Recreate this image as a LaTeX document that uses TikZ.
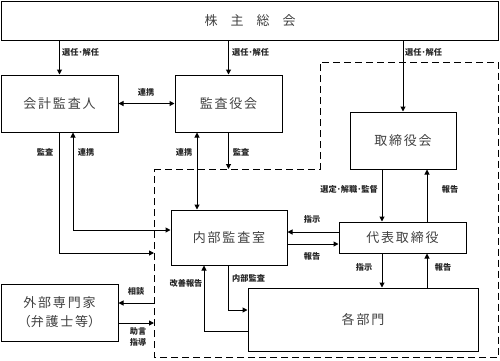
\documentclass[tikz,border=0pt]{standalone}
\usepackage{fontspec}
\newfontfamily\jp{Noto Sans CJK JP}
\usetikzlibrary{arrows.meta}
\newcommand\lsp{\hspace{1.8pt}}
\begin{document}
\begin{tikzpicture}[x=1pt,y=-1pt,
 box/.style={draw,line width=1pt,inner sep=0pt,align=center,font=\jp\fontsize{13}{19}\selectfont,text=black!75},
 lbl/.style={font=\jp\bfseries\fontsize{8.2}{10.5}\selectfont,text=black!85,inner sep=0pt,align=center},
 arr/.style={line width=1pt,-{Triangle[length=5pt,width=5pt]}},
 darr/.style={line width=1pt,{Triangle[length=5pt,width=5pt]}-{Triangle[length=5pt,width=5pt]}},
 zone/.style={line width=1pt,dash pattern=on 7pt off 4pt}]
\useasboundingbox (0,0) rectangle (500,360);
% dashed company zone
\draw[zone] (154,169) -- (320,169) -- (320,62) -- (498.5,62) -- (498.5,357) -- (154,357) -- cycle;
% boxes
\node[box,minimum width=497pt,minimum height=39pt] (sh) at (250,20.5) {株\hspace{13pt}主\hspace{13pt}総\hspace{13pt}会};
\node[box,minimum width=117pt,minimum height=57pt] (ka) at (59.5,103.5) {会\lsp{}計\lsp{}監\lsp{}査\lsp{}人};
\node[box,minimum width=107pt,minimum height=57pt] (ky) at (228.5,103.5) {監\lsp{}査\lsp{}役\lsp{}会};
\node[box,minimum width=106pt,minimum height=57pt] (tb) at (403,140.5) {取\lsp{}締\lsp{}役\lsp{}会};
\node[box,minimum width=116pt,minimum height=55pt] (nb) at (229,237.5) {内\lsp{}部\lsp{}監\lsp{}査\lsp{}室};
\node[box,minimum width=127pt,minimum height=31pt] (dh) at (402.5,237.5) {代\lsp{}表\lsp{}取\lsp{}締\lsp{}役};
\node[box,minimum width=230pt,minimum height=63pt] (kb) at (363,319.5) {各\lsp{}部\lsp{}門};
\node[box,minimum width=117pt,minimum height=57pt] (gs) at (59.5,312.5) {外\lsp{}部\lsp{}専\lsp{}門\lsp{}家\\（弁\lsp{}護\lsp{}士\lsp{}等）};
% border coordinates
\coordinate (b1) at (154,253);
\coordinate (b2) at (229,169);
\coordinate (b3) at (154,303);
\coordinate (b4) at (154,323);
% shareholders
\draw[arr] (ka.north |- sh.south) -- (ka.north);
\draw[arr] (ky.north |- sh.south) -- (ky.north);
\draw[arr] (tb.north |- sh.south) -- (tb.north);
\node[lbl,anchor=west] (l1) at (62,52) {選任･解任};
\node[lbl,anchor=west] (l2) at (232,52) {選任･解任};
\node[lbl,anchor=west] (l3) at (405,52) {選任･解任};
% auditors
\draw[darr] (ka.east) -- (ky.west);
\node[lbl] (l4) at (146,92) {連携};
\draw[arr] (ka.south) |- (b1);
\node[lbl] (l5) at (45,152) {監査};
\draw[darr] ([xshift=13.5pt]ka.south) |- ([yshift=7.5pt]nb.west);
\node[lbl] (l6) at (86,152) {連携};
\draw[darr] ([xshift=-31.5pt]ky.south) -- ([xshift=-31.5pt]ky.south |- nb.north);
\node[lbl] (l7) at (184,152) {連携};
\draw[arr] (ky.south) -- (ky.south |- b2);
\node[lbl] (l8) at (241,152) {監査};
% board
\draw[arr] ([xshift=-21pt]tb.south) -- ([xshift=-21pt]tb.south |- dh.north);
\node[lbl,anchor=east] (l9) at (378,189) {選定･解職･監督};
\draw[arr] ([xshift=24pt]tb.south |- dh.north) -- ([xshift=24pt]tb.south);
\node[lbl] (l10) at (450,189) {報告};
% rep director <-> internal audit
\draw[arr] ([yshift=5.5pt]dh.west) -- ([yshift=5.5pt]dh.west -| nb.east);
\node[lbl] (l11) at (312,219) {指示};
\draw[arr] ([yshift=-6.5pt]nb.east) -- ([yshift=-6.5pt]nb.east -| dh.west);
\node[lbl] (l12) at (312,256) {報告};
% rep director <-> departments
\draw[arr] ([xshift=-20.5pt]dh.south) -- ([xshift=-20.5pt]dh.south |- kb.north);
\node[lbl] (l13) at (364,267) {指示};
\draw[arr] ([xshift=24.5pt]dh.south |- kb.north) -- ([xshift=24.5pt]dh.south);
\node[lbl] (l14) at (443,267) {報告};
% internal audit <-> departments
\draw[arr] ([xshift=-1pt]nb.south) |- ([yshift=9.5pt]kb.west);
\node[lbl,anchor=west] (l15) at (232,278) {内部監査};
\draw[arr] ([yshift=-11.5pt]kb.west) -| ([xshift=-25pt]nb.south);
\node[lbl] (l16) at (186,283) {改善報告};
% external experts
\draw[arr] (b3) -- (b3 -| gs.east);
\node[lbl] (l17) at (136,291) {相談};
\draw[arr] (b4 -| gs.east) -- (b4);
\node[lbl] (l18) at (138,337) {助言\\指導};
\end{tikzpicture}
\end{document}
